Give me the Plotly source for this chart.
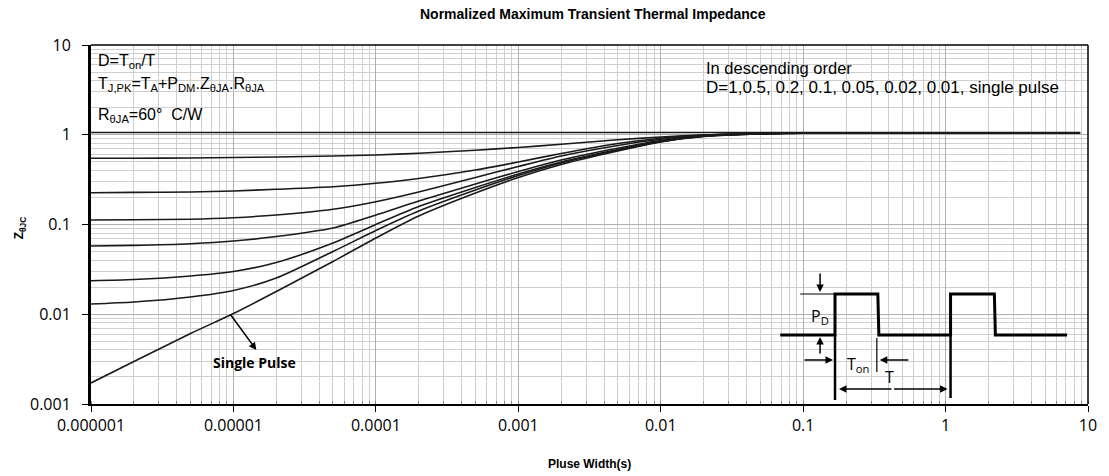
import plotly.graph_objects as go

# ---------------- data ----------------
pulse_width = [1e-6, 2e-6, 5e-6, 1e-5, 2e-5, 5e-5, 1e-4, 2e-4, 5e-4, 1e-3,
               2e-3, 5e-3, 1e-2, 2e-2, 5e-2, 1e-1, 1, 8.8]

z_d1 = [1.06, 1.06, 1.06, 1.06, 1.06, 1.06, 1.06, 1.06, 1.06, 1.06,
        1.06, 1.06, 1.06, 1.06, 1.06, 1.06, 1.06, 1.06]
z_d05 = [0.5464, 0.5478, 0.5507, 0.5578, 0.5650, 0.5797, 0.5948, 0.6229, 0.6727, 0.7210,
         0.7826, 0.8788, 0.9439, 0.9936, 1.0326, 1.0459, 1.046, 1.046]
z_d02 = [0.2261, 0.2279, 0.2302, 0.2362, 0.2467, 0.2637, 0.2878, 0.3255, 0.4047, 0.4972,
         0.6181, 0.7989, 0.9153, 0.9936, 1.0326, 1.0459, 1.046, 1.046]
z_d01 = [0.1122, 0.1128, 0.1146, 0.1191, 0.1276, 0.1476, 0.1795, 0.2302, 0.3340, 0.4427,
         0.5797, 0.7589, 0.8917, 0.9860, 1.0299, 1.0432, 1.046, 1.046]
z_d005 = [0.05761, 0.05850, 0.06111, 0.06547, 0.07349, 0.09141, 0.1276, 0.1828, 0.2826, 0.3894,
          0.5233, 0.7063, 0.8610, 0.9734, 1.0273, 1.0432, 1.046, 1.046]
z_d002 = [0.02365, 0.02439, 0.02667, 0.02993, 0.03772, 0.06222, 0.1000, 0.1587, 0.2584, 0.3653,
          0.4972, 0.6849, 0.8478, 0.9660, 1.0246, 1.0432, 1.046, 1.046]
z_d001 = [0.01301, 0.01369, 0.01557, 0.01839, 0.02534, 0.05003, 0.08574, 0.1414, 0.2423, 0.3515,
          0.4843, 0.6727, 0.8391, 0.9610, 1.0220, 1.0406, 1.046, 1.046]
z_single = [0.001714, 0.002975, 0.006103, 0.01019, 0.01793, 0.03870, 0.07072, 0.1244, 0.2244, 0.3340,
            0.4662, 0.6593, 0.8302, 0.9561, 1.0195, 1.0379, 1.046, 1.046]

series = [("D=1", z_d1), ("D=0.5", z_d05), ("D=0.2", z_d02), ("D=0.1", z_d01),
          ("D=0.05", z_d005), ("D=0.02", z_d002), ("D=0.01", z_d001),
          ("Single Pulse", z_single)]

x_tickvals = [1e-6, 1e-5, 1e-4, 1e-3, 1e-2, 1e-1, 1, 10]
x_ticktext = ["0.000001", "0.00001", "0.0001", "0.001", "0.01", "0.1", "1", "10"]
y_tickvals = [0.001, 0.01, 0.1, 1, 10]
y_ticktext = ["0.001", "0.01", "0.1", "1", "10"]

# ---------------- layout geometry ----------------
W, H = 1109, 476
L, R, T, B = 91, 1092, 45, 404


def px(x):
    return (x - L) / (R - L)


def py(y):
    return (B - y) / (B - T)


fig = go.Figure()
for name, z in series:
    fig.add_trace(go.Scatter(x=pulse_width, y=z, mode="lines", name=name,
                             line=dict(color="#1a1a1a", width=1.6, shape="spline", smoothing=0.7),
                             showlegend=False, hoverinfo="skip"))

shapes = []
# white boxes hiding the grid
for (x0, y0, x1, y1) in [(91, 45, 298, 127), (700, 55, 1092, 103), (780, 260, 1092, 404)]:
    shapes.append(dict(type="rect", xref="paper", yref="paper", x0=px(x0), x1=px(x1),
                       y0=py(y1), y1=py(y0), fillcolor="white", line=dict(width=0),
                       layer="between"))

# frame top / right
shapes.append(dict(type="line", xref="paper", yref="paper", x0=0, x1=1, y0=1, y1=1,
                   line=dict(color="black", width=1.5), layer="above"))
shapes.append(dict(type="line", xref="paper", yref="paper", x0=1, x1=1, y0=0, y1=1,
                   line=dict(color="black", width=1.5), layer="above"))

# inset waveform
wave = [(783, 335), (838, 335), (838, 294), (881, 294), (882, 335), (954, 335),
        (954, 294), (998, 294), (999, 335), (1071, 335)]
path = "M " + " L ".join(f"{px(a):.5f},{py(b):.5f}" for a, b in wave)
shapes.append(dict(type="path", xref="paper", yref="paper", path=path,
                   line=dict(color="black", width=3), layer="above"))
for (x0, y0, x1, y1, w) in [(838, 335, 838, 400, 2.5), (954, 335, 954, 398, 2.5),
                            (803, 294, 838, 294, 1.2), (880, 338, 880, 372, 1.2)]:
    shapes.append(dict(type="line", xref="paper", yref="paper", x0=px(x0), y0=py(y0),
                       x1=px(x1), y1=py(y1), line=dict(color="black", width=w), layer="above"))

annotations = []


def arrow(tx, ty, hx, hy, width=1.5):
    annotations.append(dict(x=px(hx), y=py(hy), xref="paper", yref="paper",
                            ax=tx - hx, ay=ty - hy, axref="pixel", ayref="pixel",
                            text="", showarrow=True, arrowhead=2, arrowsize=1,
                            arrowwidth=width, arrowcolor="black", standoff=0, startstandoff=0))


arrow(823, 272, 823, 292)
arrow(823, 355, 823, 337)
arrow(806, 360, 836, 360)
arrow(913, 360, 883, 360)
arrow(896, 389, 842, 389)
arrow(896, 389, 951, 389)
arrow(230, 313, 257, 350, width=1.5)

inset_font = dict(family="Open Sans, Arial", size=16, color="black")
for txt, x, y in [("P<sub>D</sub>", 823, 316), ("T<sub>on</sub>", 861, 364), ("T", 893, 377)]:
    annotations.append(dict(x=px(x), y=py(y), xref="paper", yref="paper", text=txt,
                            showarrow=False, font=inset_font, xanchor="center", yanchor="middle"))

annotations.append(dict(x=px(255), y=py(362), xref="paper", yref="paper", text="<b>Single Pulse</b>",
                        showarrow=False, font=dict(family="Open Sans, Arial", size=14, color="black"),
                        xanchor="center", yanchor="middle"))

box_font = dict(family="Liberation Sans, Arial", size=16, color="black")
for txt, y in [("D=T<sub>on</sub>/T", 62),
               ("T<sub>J,PK</sub>=T<sub>A</sub>+P<sub>DM</sub>.Z<sub>θJA</sub>.R<sub>θJA</sub>", 84),
               ("R<sub>θJA</sub>=60°  C/W", 115)]:
    annotations.append(dict(x=px(96), y=py(y), xref="paper", yref="paper", text=txt,
                            showarrow=False, font=box_font, xanchor="left", yanchor="middle"))
for txt, y, fs in [("In descending order", 68, 16.5),
                   ("D=1,0.5, 0.2, 0.1, 0.05, 0.02, 0.01, single pulse", 87, 17)]:
    annotations.append(dict(x=px(706), y=py(y), xref="paper", yref="paper", text=txt,
                            showarrow=False, font=dict(family="Liberation Sans, Arial", size=fs, color="black"),
                            xanchor="left", yanchor="middle"))

# titles
annotations.append(dict(x=px(595), y=py(14), xref="paper", yref="paper",
                        text="<b>Normalized Maximum Transient Thermal Impedance</b>",
                        showarrow=False, font=dict(family="Liberation Sans Narrow, Arial Narrow, Arial", size=14, color="black"),
                        xanchor="center", yanchor="middle"))
annotations.append(dict(x=px(591), y=py(464), xref="paper", yref="paper",
                        text="<b>Pluse Width(s)</b>",
                        showarrow=False, font=dict(family="Liberation Sans, Arial", size=12, color="black"),
                        xanchor="center", yanchor="middle"))
annotations.append(dict(x=px(20), y=py(228), xref="paper", yref="paper",
                        text="<b>Z<sub>θJC</sub></b>", textangle=-90,
                        showarrow=False, font=dict(family="Liberation Sans, Arial", size=12, color="black"),
                        xanchor="center", yanchor="middle"))

tick_font = dict(family="Open Sans, Arial", size=16, color="black")

fig.update_layout(
    width=W, height=H,
    margin=dict(l=L, r=W - R, t=T, b=H - B),
    paper_bgcolor="white", plot_bgcolor="white",
    shapes=shapes, annotations=annotations,
    xaxis=dict(type="log", range=[-6, 1], tickvals=x_tickvals, ticktext=x_ticktext,
               showgrid=True, gridcolor="#b0b0b0", gridwidth=1,
               showline=True, linecolor="black", linewidth=2,
               ticks="outside", ticklen=6, tickcolor="black", tickwidth=1.2,
               tickfont=tick_font, zeroline=False,
               minor=dict(showgrid=True, gridcolor="#cfcfcf", gridwidth=1,
                          ticks="inside", ticklen=3, tickcolor="#888888",
                          dtick="D1")),
    yaxis=dict(type="log", range=[-3, 1], tickvals=y_tickvals, ticktext=y_ticktext,
               showgrid=True, gridcolor="#b0b0b0", gridwidth=1,
               showline=True, linecolor="black", linewidth=3,
               ticks="outside", ticklen=6, tickcolor="black", tickwidth=1.2,
               tickfont=tick_font, zeroline=False, ticklabelstandoff=8,
               minor=dict(showgrid=True, gridcolor="#cfcfcf", gridwidth=1, dtick="D1")),
)

fig.write_html("out.html")
